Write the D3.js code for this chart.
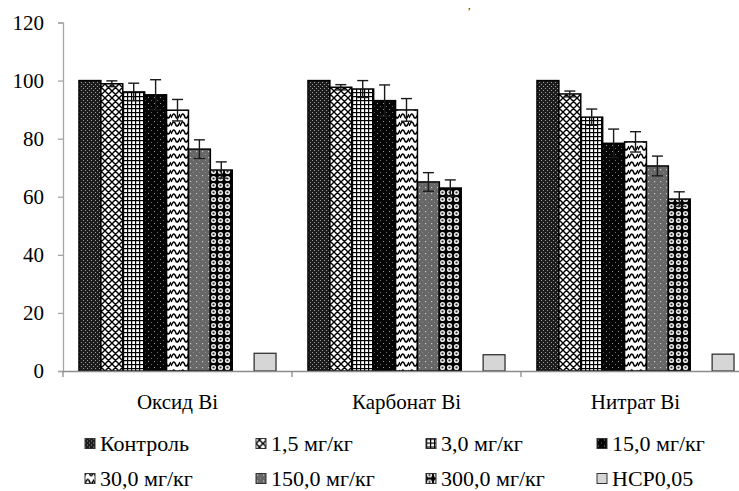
<!DOCTYPE html>
<html>
<head>
<meta charset="utf-8">
<script src="https://cdn.jsdelivr.net/npm/d3@7/dist/d3.min.js"></script>
<style>
  html, body { margin: 0; padding: 0; background: #fff; }
  svg { display: block; }
  text { font-family: "Liberation Serif", "Times New Roman", serif; fill: #000; }
</style>
</head>
<body>
<svg id="chart" width="739" height="491"></svg>
<script>
// Compounds (x categories)
const groups = ["Оксид Bi", "Карбонат Bi", "Нитрат Bi"];
// Doses (series)
const series = ["Контроль", "1,5 мг/кг", "3,0 мг/кг", "15,0 мг/кг", "30,0 мг/кг", "150,0 мг/кг", "300,0 мг/кг"];
const hcpLabel = "НСР0,05";

// Mean values, % of control
const oxideValues     = [100, 98.9, 96.1, 95.1, 89.8, 76.4, 69.2];
const carbonateValues = [100, 97.7, 97.1, 93.1, 89.9, 65.1, 63.0];
const nitrateValues   = [100, 95.4, 87.4, 78.4, 78.9, 70.6, 59.2];

// Error bar half-widths
const oxideErrors     = [0, 1.0, 3.0, 5.2, 3.7, 3.2, 2.8];
const carbonateErrors = [0, 0.9, 2.9, 5.4, 3.9, 3.2, 2.8];
const nitrateErrors   = [0, 1.0, 2.8, 4.9, 3.5, 3.4, 2.5];

// Least significant difference per compound
const hcpValues = [6.1, 5.6, 5.8];

const yTicks = [0, 20, 40, 60, 80, 100, 120];

const valuesByGroup = [oxideValues, carbonateValues, nitrateValues];
const errorsByGroup = [oxideErrors, carbonateErrors, nitrateErrors];

const svg = d3.select("#chart");

// ---- fill patterns ----
const defs = svg.append("defs");
function pattern(id, w, h, build) {
  const p = defs.append("pattern").attr("id", id)
    .attr("patternUnits", "userSpaceOnUse").attr("width", w).attr("height", h);
  build(p, w, h);
}
pattern("p0", 4, 4, (p) => {
  p.append("rect").attr("width", 4).attr("height", 4).attr("fill", "#1c1c1c");
  p.append("rect").attr("x", 0).attr("y", 0).attr("width", 1).attr("height", 1).attr("fill", "#9a9a9a");
  p.append("rect").attr("x", 2).attr("y", 2).attr("width", 1).attr("height", 1).attr("fill", "#9a9a9a");
});
pattern("p1", 7, 7, (p) => {
  p.append("rect").attr("width", 7).attr("height", 7).attr("fill", "#fff");
  p.append("path").attr("d", "M0,0L7,7M7,0L0,7M-1,6L1,8M6,-1L8,1M-1,1L1,-1M6,8L8,6")
    .attr("stroke", "#000").attr("stroke-width", 1.4);
});
pattern("p2", 4, 4, (p) => {
  p.append("rect").attr("width", 4).attr("height", 4).attr("fill", "#fff");
  p.append("rect").attr("width", 1.2).attr("height", 4).attr("fill", "#000");
  p.append("rect").attr("width", 4).attr("height", 1.2).attr("fill", "#000");
});
pattern("p3", 6, 6, (p) => {
  p.append("rect").attr("width", 6).attr("height", 6).attr("fill", "#050505");
  p.append("rect").attr("x", 1).attr("y", 1).attr("width", 1).attr("height", 1).attr("fill", "#9a9a9a");
  p.append("rect").attr("x", 4).attr("y", 4).attr("width", 1).attr("height", 1).attr("fill", "#6a6a6a");
});
pattern("p4", 9, 8, (p) => {
  p.append("rect").attr("width", 9).attr("height", 8).attr("fill", "#fff");
  p.append("path").attr("d", "M0,6C2,1 3.5,1 4.5,4C5.5,7 7,7 9,2")
    .attr("fill", "none").attr("stroke", "#000").attr("stroke-width", 1.6);
});
pattern("p5", 6, 6, (p) => {
  p.append("rect").attr("width", 6).attr("height", 6).attr("fill", "#676767");
  p.append("rect").attr("x", 1).attr("y", 1).attr("width", 1.2).attr("height", 1.2).attr("fill", "#c8c8c8");
  p.append("rect").attr("x", 4).attr("y", 4).attr("width", 1).attr("height", 1).attr("fill", "#8a8a8a");
});
pattern("p6", 7, 7, (p) => {
  p.append("rect").attr("width", 7).attr("height", 7).attr("fill", "#000");
  p.append("circle").attr("cx", 3.5).attr("cy", 3.5).attr("r", 2.6).attr("fill", "#e8e8e8");
  p.append("circle").attr("cx", 3.5).attr("cy", 3.5).attr("r", 1.1).attr("fill", "#2a2a2a");
});
const fills = ["url(#p0)", "url(#p1)", "url(#p2)", "url(#p3)", "url(#p4)", "url(#p5)", "url(#p6)"];
const hcpFill = "#d6d6d6";

// ---- scales ----
const slots = [...series, "", hcpLabel];
const x0 = d3.scaleBand().domain(groups).range([63, 750]).padding(0);
const x1 = d3.scaleBand().domain(slots).range([0, x0.bandwidth()])
  .paddingInner(0).paddingOuter(0.73);
const y = d3.scaleLinear().domain([0, 120]).range([371, 22.5]);

// ---- axes ----
const yAxis = svg.append("g").attr("transform", "translate(63,0)")
  .call(d3.axisLeft(y).tickValues(yTicks).tickSize(5).tickPadding(14));
yAxis.select(".domain").attr("stroke", "#a6a6a6").attr("stroke-width", 1.3);
yAxis.selectAll(".tick line").attr("stroke", "#a6a6a6").attr("stroke-width", 1.3);
yAxis.selectAll(".tick text").style("font-size", "21px")
  .attr("font-family", null).attr("fill", "#000");

// ---- bars ----
const gGroups = svg.append("g").selectAll("g").data(groups).join("g")
  .attr("transform", d => `translate(${x0(d)},0)`);

gGroups.each(function(g, gi) {
  const sel = d3.select(this);
  const rows = series.map((s, si) => ({ s, si, v: valuesByGroup[gi][si], e: errorsByGroup[gi][si] }));
  sel.selectAll("rect.bar").data(rows).join("rect").attr("class", "bar")
    .attr("x", d => x1(d.s)).attr("width", x1.bandwidth())
    .attr("y", d => y(d.v)).attr("height", d => y(0) - y(d.v))
    .attr("fill", d => fills[d.si]).attr("stroke", "#000").attr("stroke-width", 1.5);
  sel.append("rect")
    .attr("x", x1(hcpLabel)).attr("width", x1.bandwidth())
    .attr("y", y(hcpValues[gi])).attr("height", y(0) - y(hcpValues[gi]))
    .attr("fill", hcpFill).attr("stroke", "#333").attr("stroke-width", 1.3);

  // error bars
  const eb = sel.selectAll("g.err").data(rows.filter(d => d.e > 0)).join("g").attr("class", "err")
    .attr("stroke", "#1a1a1a").attr("stroke-width", 1.4);
  const cx = d => x1(d.s) + x1.bandwidth() / 2;
  eb.append("line").attr("x1", cx).attr("x2", cx)
    .attr("y1", d => y(d.v + d.e)).attr("y2", d => y(d.v - d.e));
  eb.append("line").attr("x1", d => cx(d) - 5.5).attr("x2", d => cx(d) + 5.5)
    .attr("y1", d => y(d.v + d.e)).attr("y2", d => y(d.v + d.e));
  eb.append("line").attr("x1", d => cx(d) - 5.5).attr("x2", d => cx(d) + 5.5)
    .attr("y1", d => y(d.v - d.e)).attr("y2", d => y(d.v - d.e));
});

// x axis
const xAxis = svg.append("g").attr("transform", `translate(0,${y(0)})`)
  .call(d3.axisBottom(x0).tickSize(0).tickPadding(23));
xAxis.select(".domain").attr("stroke", "#8c8c8c").attr("stroke-width", 1.3);
xAxis.selectAll(".tick text").style("font-size", "21px")
  .attr("font-family", null).attr("fill", "#000");
// boundary ticks between categories
const bounds = [...groups.map(g => x0(g)), x0.range()[1]];
svg.append("g").selectAll("line").data(bounds).join("line")
  .attr("x1", d => d).attr("x2", d => d)
  .attr("y1", y(0)).attr("y2", y(0) + 6)
  .attr("stroke", "#8c8c8c").attr("stroke-width", 1.3);

// trailing comma of the heading line above the plot
svg.append("text").attr("x", 468).attr("y", 9).style("font-size", "10px").text(",");

// ---- legend ----
const legendItems = [...series.map((s, i) => ({ label: s, fill: fills[i] })), { label: hcpLabel, fill: hcpFill }];
const colX = [85, 256, 426, 597];
const rowY = [450.5, 485.5];
const leg = svg.append("g").selectAll("g").data(legendItems).join("g")
  .attr("transform", (d, i) => `translate(${colX[i % 4]},${rowY[Math.floor(i / 4)]})`);
leg.append("rect").attr("x", 0).attr("y", -12).attr("width", 10).attr("height", 10)
  .attr("fill", d => d.fill).attr("stroke", "#333").attr("stroke-width", 1);
leg.append("text").attr("x", 15).attr("y", 0).style("font-size", "22px").text(d => d.label);
</script>
</body>
</html>
